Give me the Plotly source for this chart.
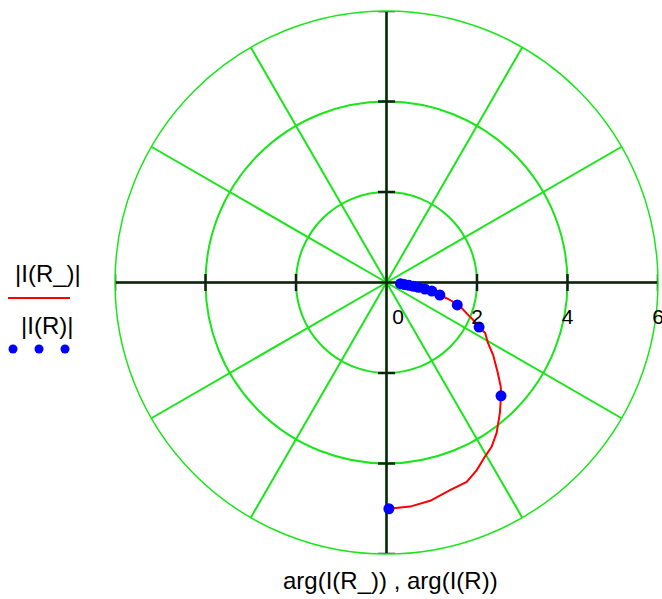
import math
import plotly.graph_objects as go

# Continuous response |I(R_)| against arg(I(R_)) (degrees)
r_curve = [0.20, 0.31, 0.50, 0.71, 0.86, 1.02, 1.21, 1.37, 1.50, 1.64, 1.76, 1.99,
           2.14, 2.27, 2.45, 2.61, 2.85, 3.17, 3.42, 3.56, 3.82, 4.12, 4.31, 4.42,
           4.60, 4.75, 4.80, 4.92, 4.98, 5.00]
theta_curve = [-4.0, -5.0, -7.3, -8.6, -9.6, -10.7, -13.2, -14.7, -15.8, -17.6, -18.9, -22.3,
               -23.9, -25.7, -27.1, -30.8, -34.2, -39.1, -42.4, -44.7, -49.0, -53.8, -57.4, -60.5,
               -64.3, -68.1, -73.0, -78.7, -84.0, -89.4]

# Sampled points |I(R)| against arg(I(R)) (degrees)
r_pts = [0.31, 0.40, 0.50, 0.60, 0.71, 0.86, 1.02, 1.21, 1.64, 2.27, 3.56, 5.00]
theta_pts = [-5.0, -6.5, -7.3, -8.0, -8.6, -9.6, -10.7, -13.2, -17.6, -25.7, -44.7, -89.4]

radial_ticks = [0, 2, 4, 6]
axis_angles = [0, 90, 180, 270]

GREEN = "#19e619"
AXIS = "#0b250b"
R_MAX = 6
W, H = 662, 599

fig = go.Figure()

# Heavy cross axes
for a in axis_angles:
    fig.add_trace(go.Scatterpolar(r=[0, R_MAX], theta=[a, a], mode="lines",
                                  line=dict(color=AXIS, width=2.5),
                                  cliponaxis=False, hoverinfo="skip", showlegend=False))

# Tick marks across each axis at the radial tick values
half = 0.19
tr, tt = [], []
for a in axis_angles:
    for v in radial_ticks[1:]:
        rr = math.hypot(v, half)
        d = math.degrees(math.atan2(half, v))
        tr += [rr, rr, None]
        tt += [a - d, a + d, None]
fig.add_trace(go.Scatterpolar(r=tr, theta=tt, mode="lines",
                              line=dict(color=AXIS, width=2.5),
                              cliponaxis=False, hoverinfo="skip", showlegend=False))

fig.add_trace(go.Scatterpolar(r=r_curve, theta=theta_curve, mode="lines",
                              line=dict(color="#ff0000", width=2),
                              cliponaxis=False, showlegend=False))
fig.add_trace(go.Scatterpolar(r=r_pts, theta=theta_pts, mode="markers",
                              marker=dict(color="#0000ff", size=11),
                              cliponaxis=False, showlegend=False))

px = lambda x: x / W
py = lambda y: 1 - y / H

# "0" sits a little to the right of the origin
tick_text = ["\u2007\u20070" if v == 0 else str(v) for v in radial_ticks]

fig.update_layout(
    width=W, height=H,
    margin=dict(l=0, r=0, t=0, b=0),
    paper_bgcolor="white",
    font=dict(family="Liberation Sans, Arial, sans-serif", color="black"),
    polar=dict(
        domain=dict(x=[px(115), px(658)], y=[py(554), py(11)]),
        bgcolor="white",
        radialaxis=dict(range=[0, R_MAX], tickvals=radial_ticks, ticktext=tick_text,
                        showline=False, gridcolor=GREEN, gridwidth=1.5,
                        angle=0, side="clockwise", ticks="outside", ticklen=16,
                        tickcolor="rgba(0,0,0,0)", tickangle=0,
                        tickfont=dict(size=21, color="black")),
        angularaxis=dict(tickmode="linear", tick0=0, dtick=30,
                         showticklabels=False, ticks="",
                         gridcolor=GREEN, gridwidth=1.5,
                         showline=True, linecolor=GREEN, linewidth=1.5),
    ),
    annotations=[
        dict(text="arg(I(R_)) , arg(I(R))", x=px(390), y=py(580), xref="paper", yref="paper",
             xanchor="center", yanchor="middle", showarrow=False, font=dict(size=24)),
        dict(text="|I(R_)|", x=px(48), y=py(273), xref="paper", yref="paper",
             xanchor="center", yanchor="middle", showarrow=False, font=dict(size=24)),
        dict(text="|I(R)|", x=px(47), y=py(325), xref="paper", yref="paper",
             xanchor="center", yanchor="middle", showarrow=False, font=dict(size=24)),
    ],
    shapes=[
        dict(type="line", xref="paper", yref="paper", x0=px(8), x1=px(70), y0=py(298), y1=py(298),
             line=dict(color="#ff0000", width=2)),
    ] + [
        dict(type="circle", xref="paper", yref="paper", x0=px(cx - 4.5), x1=px(cx + 4.5),
             y0=py(349 + 4.5), y1=py(349 - 4.5), fillcolor="#0000ff", line=dict(width=0))
        for cx in (13, 39, 65)
    ],
)

fig.write_html("out.html")
